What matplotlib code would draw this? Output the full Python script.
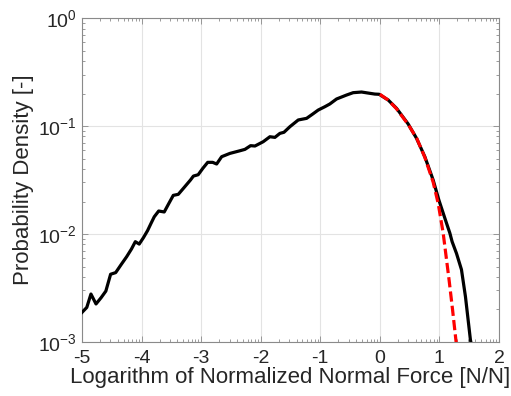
import matplotlib
matplotlib.use("Agg")
import matplotlib.pyplot as plt
import numpy as np
from matplotlib.ticker import FixedLocator, LogLocator, NullFormatter

plt.rcParams["font.family"] = ["Liberation Sans", "DejaVu Sans"]
plt.rcParams["mathtext.fontset"] = "custom"
plt.rcParams["mathtext.rm"] = "Liberation Sans"
plt.rcParams["mathtext.it"] = "Liberation Sans"

# measured histogram of log10(f / <f>)
log_force = [-5.00, -4.92, -4.85, -4.765, -4.68, -4.60, -4.52, -4.435, -4.34, -4.25,
             -4.17, -4.105, -4.04, -3.97, -3.90, -3.84, -3.787, -3.713, -3.62, -3.54,
             -3.468, -3.384, -3.28, -3.18, -3.13, -3.05, -2.97, -2.89, -2.807, -2.74,
             -2.656, -2.517, -2.35, -2.265, -2.17, -2.097, -1.958, -1.846, -1.762, -1.678,
             -1.61, -1.51, -1.37, -1.23, -1.13, -1.035, -0.923, -0.84, -0.727, -0.56,
             -0.448, -0.307, -0.168, -0.084, -0.012, 0.14, 0.28, 0.475, 0.616, 0.755,
             0.895, 0.99, 1.06, 1.119, 1.175, 1.213, 1.287, 1.37, 1.437, 1.52, 1.545]
density = [0.00188, 0.00209, 0.00278, 0.00225, 0.00257, 0.00296, 0.00424, 0.00439, 0.00524, 0.00617,
           0.00726, 0.00849, 0.00807, 0.00923, 0.01074, 0.0126, 0.01445, 0.01633, 0.0160, 0.0193,
           0.0228, 0.0233, 0.0272, 0.0316, 0.0344, 0.0354, 0.0407, 0.0461, 0.0461, 0.0445,
           0.0520, 0.0558, 0.0590, 0.0608, 0.0658, 0.0653, 0.0716, 0.0796, 0.0785, 0.0855,
           0.0875, 0.0986, 0.1138, 0.1178, 0.1288, 0.1406, 0.1510, 0.1600, 0.1780, 0.1936,
           0.2037, 0.2065, 0.2009, 0.1977, 0.1968, 0.1742, 0.1459, 0.1045, 0.0769, 0.0520,
           0.0316, 0.0207, 0.0158, 0.0126, 0.0102, 0.0085, 0.0066, 0.00468, 0.00263, 0.00105, 0.00089]

# fitted tail (dashed red)
fit_log_force = [0.0, 0.14, 0.28, 0.475, 0.62, 0.755, 0.895, 0.98, 1.063, 1.163, 1.22, 1.28, 1.295]
fit_density = [0.1968, 0.1738, 0.1445, 0.1035, 0.0767, 0.0513, 0.0302, 0.0191, 0.0102, 0.00372,
               0.0020, 0.0010, 0.00079]

x_ticks = [-5, -4, -3, -2, -1, 0, 1, 2]
y_ticks = [1e-3, 1e-2, 1e-1, 1e0]
y_tick_labels = [r"$10^{-3}$", r"$10^{-2}$", r"$10^{-1}$", r"$10^{0}$"]

fig = plt.figure(figsize=(5.11, 3.96), dpi=100)
ax = fig.add_axes([0.1605, 0.1364, 0.816, 0.818])

ax.plot(log_force, density, color="black", linewidth=2.3, solid_joinstyle="round", zorder=3)
ax.plot(fit_log_force, fit_density, color="red", linewidth=2.3, dashes=(3.2, 1.3), zorder=4)

ax.set_yscale("log")
ax.set_xlim(-5, 2)
ax.set_ylim(1e-3, 1)
ax.set_xticks(x_ticks)
ax.set_xticklabels([str(t) for t in x_ticks])
ax.set_yticks(y_ticks)
ax.set_yticklabels(y_tick_labels)
ax.yaxis.set_minor_locator(LogLocator(base=10, subs=np.arange(2, 10)))
ax.yaxis.set_minor_formatter(NullFormatter())

# MATLAB-style minor ticks on the x axis (log spacing inside each unit)
minor_x = [i + np.log10(k) for i in range(-5, 2) for k in range(2, 10)]
ax.xaxis.set_minor_locator(FixedLocator(minor_x))

ax.grid(True, which="major", color="#e3e3e3", linewidth=0.8)
ax.set_axisbelow(True)
ax.tick_params(which="both", direction="in", top=True, right=True, colors="#8a8a8a",
               labelcolor="#262626", labelsize=14)
ax.tick_params(which="major", length=4.5, width=0.6)
ax.tick_params(which="minor", length=2.5, width=0.6)
ax.tick_params(axis="x", which="major", pad=6)
for sp in ax.spines.values():
    sp.set_color("#8a8a8a")
    sp.set_linewidth(0.8)

ax.set_xlabel("Logarithm of Normalized Normal Force [N/N]", fontsize=16, color="#262626", labelpad=0)
ax.set_ylabel("Probability Density [-]", fontsize=16, color="#262626", labelpad=3)

fig.savefig("out.png", dpi=100)
